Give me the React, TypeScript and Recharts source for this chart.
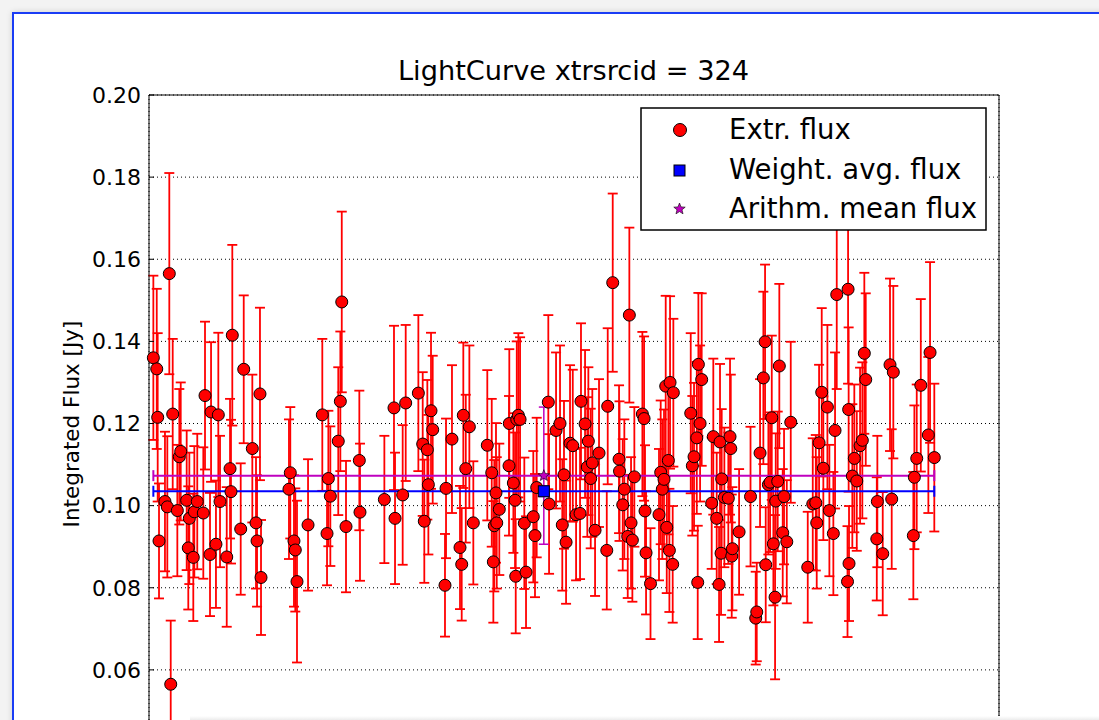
import { ScatterChart, Scatter, XAxis, YAxis, CartesianGrid, ErrorBar } from 'recharts';

// observation times (arbitrary day offset, x axis labels are cut off in the source)
const times = [
  4.6, 8.2, 9.2, 10.6, 16.9, 19.4, 21.5, 23.0, 25.1, 30.0, 32.1, 33.6, 39.9, 41.6, 42.7, 46.9, 48.0, 51.1, 57.5, 59.3,
  64.6, 65.7, 70.9, 73.4, 75.2, 82.3, 85.8, 86.8, 88.2, 97.1, 100.3,
  109.4, 113.3, 114.4, 117.5, 118.6, 148.2, 149.6, 153.5, 154.9, 156.7, 168.4, 183.5, 188.5, 189.9, 192.0, 200.4, 202.6, 204.1, 208.6,
  222.7, 223.4, 249.2, 259.4, 260.5, 268.6, 271.8, 285.2, 289.8, 291.5, 294.7, 295.8, 298.6, 300.4, 313.4, 314.5, 320.8,
  329.3, 331.1, 332.8, 335.4, 339.2, 343.4, 358.2, 362.9, 364.6, 365.6, 367.4, 368.2, 370.9, 381.2, 381.5, 385.8, 387.6, 388.3,
  389.4, 391.1, 392.9, 397.4, 399.2, 406.9, 408.7, 410.5, 422.8, 423.6,
  431.0, 435.2, 437.6, 439.4, 441.6, 445.8, 448.7, 452.2, 456.4, 457.4, 461.7, 464.1, 465.2, 467.7, 469.4, 472.3, 476.5, 484.7,
  485.7, 491.0, 497.7, 498.2, 501.6, 503.3, 506.9, 508.6, 510.4, 511.8, 513.9, 522.4, 524.2, 525.2, 526.3, 531.0,
  540.0, 541.8, 543.5, 545.3, 547.1, 548.2, 549.9, 551.0, 551.7, 554.5, 555.2, 573.6, 575.3, 577.1, 580.0, 581.0, 581.7, 583.5,
  585.2, 595.8, 597.5, 601.1, 603.6, 604.6, 605.7, 606.4, 609.2, 613.4, 615.2, 616.0, 617.0, 617.7, 624.8,
  636.9, 642.4, 643.5, 647.0, 650.5, 652.3, 653.0, 655.8, 657.6, 659.4, 661.1, 662.9, 663.6, 665.7, 667.4, 671.0, 672.4, 675.3,
  679.5, 697.5, 702.8, 706.0, 707.0, 709.5, 712.3, 714.0, 718.3, 720.4, 724.6, 726.4, 728.2, 740.2, 740.8, 741.2, 739.6,
  744.7, 746.8, 749.4, 752.9, 755.3, 757.4, 758.9, 770.6, 771.2, 776.9, 784.6, 786.4, 788.1, 809.3, 810.4, 812.9, 817.2, 825.2,
  827.0, 831.5,
];

const flux = [
  0.136, 0.1333, 0.1215, 0.0914, 0.101, 0.0997, 0.1565, 0.0565, 0.1223, 0.0988, 0.1119, 0.1132, 0.1013, 0.0897, 0.0969, 0.0874,
  0.0985, 0.101, 0.0982, 0.1268, 0.0881, 0.1228, 0.0906, 0.1221, 0.101, 0.0875, 0.109, 0.1034, 0.1415, 0.0943, 0.1332,
  0.1139, 0.0958, 0.0914, 0.1272, 0.0825, 0.104, 0.108, 0.0914, 0.0892, 0.0815, 0.0953, 0.1221, 0.0932, 0.1066, 0.1023, 0.1157,
  0.1254, 0.1496, 0.0949,
  0.111, 0.0984, 0.1015, 0.1238, 0.0969, 0.1026, 0.125, 0.1274, 0.115, 0.0962, 0.1136, 0.1051, 0.1231, 0.1185, 0.0806, 0.1042, 0.1162,
  0.0898, 0.0857, 0.122, 0.109, 0.1192, 0.0958, 0.1147, 0.108, 0.0863, 0.0951, 0.1031, 0.0958, 0.0991, 0.1097, 0.12, 0.1055, 0.1013,
  0.0828, 0.121, 0.122, 0.121, 0.0957, 0.0838, 0.0973, 0.0927, 0.1044, 0.1252, 0.1004,
  0.1183, 0.12, 0.0953, 0.1075, 0.0911, 0.1152, 0.1146, 0.0978, 0.0981, 0.1254, 0.1199, 0.1094, 0.1157, 0.1066, 0.1104, 0.094, 0.1128,
  0.0891, 0.1242, 0.1543, 0.1113, 0.1084, 0.1002, 0.104, 0.0925, 0.1464, 0.0958, 0.0916, 0.107, 0.1223, 0.1212, 0.0987, 0.0885, 0.081,
  0.0978, 0.1081, 0.104, 0.1064, 0.1291, 0.0947, 0.111, 0.0891, 0.13, 0.0857, 0.1275, 0.1225, 0.1097, 0.1119, 0.1165, 0.0813, 0.1344,
  0.12, 0.1307, 0.1006, 0.1168, 0.0969, 0.0808, 0.1155, 0.0884, 0.1065, 0.102, 0.1018, 0.1168, 0.1139, 0.0877, 0.0895, 0.0936,
  0.1022, 0.0726, 0.0741, 0.1128, 0.1311, 0.1399, 0.0856, 0.1051, 0.1057, 0.1214, 0.0907, 0.0777, 0.1011, 0.1059, 0.134, 0.0934,
  0.1022, 0.0912, 0.1203, 0.085, 0.1004, 0.1007, 0.0958, 0.1153, 0.1276, 0.1091, 0.124, 0.0988, 0.0932, 0.1183, 0.1514, 0.1527,
  0.1234, 0.0859, 0.0815,
  0.1072, 0.1115, 0.106, 0.1146, 0.1159, 0.1371, 0.1307, 0.0919, 0.101, 0.0883, 0.1343, 0.1016, 0.1325, 0.0927, 0.1069, 0.1115,
  0.1293, 0.1172, 0.1373, 0.1117,
];

const fluxErr = [
  0.02, 0.0195, 0.0205, 0.014, 0.017, 0.0172, 0.0245, 0.0155, 0.0183, 0.016, 0.0165, 0.0168, 0.017, 0.015, 0.016, 0.0155, 0.016,
  0.0165, 0.016, 0.018, 0.015, 0.017, 0.0155, 0.02, 0.016, 0.017, 0.017, 0.0175, 0.022, 0.016, 0.018,
  0.018, 0.016, 0.016, 0.021, 0.014, 0.017, 0.016, 0.016, 0.015, 0.0197, 0.016, 0.0185, 0.0126, 0.0165, 0.017, 0.018, 0.017, 0.022, 0.016,
  0.017, 0.0167, 0.0155, 0.02, 0.016, 0.017, 0.019, 0.019, 0.0175, 0.015, 0.017, 0.017, 0.019, 0.018, 0.0125, 0.017, 0.018,
  0.015, 0.0137, 0.0177, 0.018, 0.0198, 0.015, 0.0183, 0.018, 0.0148, 0.016, 0.017, 0.016, 0.016, 0.017, 0.0181, 0.017, 0.0165,
  0.0139, 0.019, 0.02, 0.02, 0.016, 0.0136, 0.016, 0.015, 0.017, 0.0212, 0.017,
  0.019, 0.019, 0.016, 0.018, 0.015, 0.019, 0.0185, 0.016, 0.016, 0.019, 0.018, 0.017, 0.018, 0.017, 0.018, 0.016, 0.018, 0.0144,
  0.019, 0.0217, 0.018, 0.017, 0.016, 0.017, 0.015, 0.0213, 0.016, 0.015, 0.017, 0.02, 0.02, 0.016, 0.015, 0.0135,
  0.016, 0.0175, 0.017, 0.017, 0.022, 0.016, 0.018, 0.015, 0.021, 0.0142, 0.018, 0.0195, 0.017, 0.018, 0.0185, 0.0138, 0.0174,
  0.019, 0.021, 0.016, 0.019, 0.016, 0.014, 0.019, 0.015, 0.017, 0.017, 0.016, 0.019, 0.018, 0.015, 0.015, 0.0153,
  0.017, 0.0113, 0.012, 0.018, 0.021, 0.0188, 0.014, 0.017, 0.017, 0.02, 0.015, 0.02, 0.0165, 0.017, 0.02, 0.0155, 0.0165, 0.015,
  0.0196, 0.0135, 0.016, 0.0165, 0.016, 0.019, 0.0205, 0.0175, 0.02, 0.016, 0.015, 0.019, 0.023, 0.023, 0.02, 0.014, 0.0135,
  0.0175, 0.018, 0.017, 0.019, 0.019, 0.0196, 0.021, 0.015, 0.016, 0.015, 0.021, 0.017, 0.021, 0.0155, 0.0175, 0.018, 0.021,
  0.019, 0.022, 0.018,
];

const weightedAvg = 0.1035;
const weightedAvgErr = 0.0012;
const arithMean = 0.1073;
const arithMeanErr = 0.0167;

const xTicks = [0, 100, 200, 300, 400, 500, 600, 700, 800, 900];
// the 0.04 tick sits below the visible part of the figure
const yTicks = [0.06, 0.08, 0.1, 0.12, 0.14, 0.16, 0.18, 0.2];

const points = times.map((t, i) => ({ t, flux: flux[i], err: fluxErr[i] }));
const tMin = Math.min(...times);
const tMax = Math.max(...times);
const tMid = (tMin + tMax) / 2;
const halfSpan = (tMax - tMin) / 2;
const wavgData = [{ t: tMid, flux: weightedAvg, xe: halfSpan, ye: weightedAvgErr }];
const meanData = [{ t: tMid, flux: arithMean, xe: halfSpan, ye: arithMeanErr }];

const RED = '#ff0000';
const BLUE = '#0000ff';
const MAGENTA = '#bf00bf';

const starPath = (cx: number, cy: number, ro: number, ri: number) => {
  let d = '';
  for (let k = 0; k < 10; k++) {
    const r = k % 2 === 0 ? ro : ri;
    const a = -Math.PI / 2 + (k * Math.PI) / 5;
    d += (k === 0 ? 'M' : 'L') + (cx + r * Math.cos(a)).toFixed(2) + ',' + (cy + r * Math.sin(a)).toFixed(2);
  }
  return d + 'Z';
};

const Nothing = () => <g />;
const RedDot = (p: any) => <circle cx={p.cx} cy={p.cy} r={6} fill={RED} stroke="#000" strokeWidth={1} />;
const BlueSquare = (p: any) => (
  <rect x={p.cx - 5.5} y={p.cy - 5.5} width={11} height={11} fill={BLUE} stroke="#000" strokeWidth={1} />
);
const Star = (p: any) => <path d={starPath(p.cx, p.cy, 6, 2.6)} fill={MAGENTA} stroke="#000" strokeWidth={0.6} />;

const font = 'DejaVu Sans, sans-serif';

export default function App() {
  return (
    <div style={{ position: 'absolute', left: 0, top: 0, width: 1099, height: 720, overflow: 'hidden', background: '#f3f3f3', fontFamily: font }}>
      <div style={{ position: 'absolute', left: 12, top: 12, width: 1200, height: 800, background: '#fff', borderLeft: '2px solid #1a3cf5', borderTop: '2px solid #1a3cf5', boxShadow: '0 0 6px rgba(0,0,0,0.15)' }} />
      <div style={{ position: 'absolute', left: 0, top: 0 }}>
        <ScatterChart width={1099} height={800} margin={{ top: 94, right: 99, bottom: 18, left: 89 }}>
          <CartesianGrid stroke="#000" strokeDasharray="1 3" />
          <XAxis dataKey="t" type="number" domain={[0, 900]} ticks={xTicks} height={30} tick={false} tickSize={-5} stroke="#000" />
          <XAxis xAxisId="top" orientation="top" type="number" domain={[0, 900]} ticks={xTicks} height={1} tick={false} tickSize={-5} stroke="#000" />
          <YAxis
            dataKey="flux"
            type="number"
            domain={[0.04, 0.2]}
            ticks={yTicks}
            width={60}
            tickSize={-5}
            tickMargin={13}
            stroke="#000"
            tick={{ fill: '#000', fontSize: 22, fontFamily: font }}
            tickFormatter={(v: number) => v.toFixed(2)}
          />
          <YAxis yAxisId="right" orientation="right" type="number" domain={[0.04, 0.2]} ticks={yTicks} width={1} tick={false} tickSize={-5} stroke="#000" />
          <Scatter data={points} shape={Nothing} isAnimationActive={false}>
            <ErrorBar dataKey="err" direction="y" width={5} stroke={RED} strokeWidth={1.8} isAnimationActive={false} />
          </Scatter>
          <Scatter data={wavgData} shape={Nothing} isAnimationActive={false}>
            <ErrorBar dataKey="xe" direction="x" width={5.5} stroke={BLUE} strokeWidth={2} isAnimationActive={false} />
            <ErrorBar dataKey="ye" direction="y" width={5} stroke={BLUE} strokeWidth={2} isAnimationActive={false} />
          </Scatter>
          <Scatter data={meanData} shape={Nothing} isAnimationActive={false}>
            <ErrorBar dataKey="xe" direction="x" width={5.5} stroke={MAGENTA} strokeWidth={2} isAnimationActive={false} />
            <ErrorBar dataKey="ye" direction="y" width={5} stroke={MAGENTA} strokeWidth={1.5} isAnimationActive={false} />
          </Scatter>
          <Scatter data={points} shape={RedDot} isAnimationActive={false} />
          <Scatter data={wavgData} shape={BlueSquare} isAnimationActive={false} />
          <Scatter data={meanData} shape={Star} isAnimationActive={false} />
        </ScatterChart>
      </div>
      <div style={{ position: 'absolute', left: 190, top: 716, width: 909, height: 4, background: 'linear-gradient(#ffffff, #ececec)' }} />
      <svg width={1099} height={720} style={{ position: 'absolute', left: 0, top: 0, pointerEvents: 'none' }} fontFamily={font}>
        <text x={573.5} y={80} textAnchor="middle" fontSize={27.2} fill="#000">LightCurve xtrsrcid = 324</text>
        <text x={79} y={424} textAnchor="middle" fontSize={21.5} fill="#000" transform="rotate(-90 79 424)">Integrated Flux [Jy]</text>
        <rect x={641} y={108} width={345} height={122} fill="#fff" stroke="#000" strokeWidth={1.5} />
        <circle cx={680} cy={130} r={6.5} fill={RED} stroke="#000" strokeWidth={1} />
        <text x={729} y={139} fontSize={27.5} fill="#000">Extr. flux</text>
        <rect x={674} y={165} width={11} height={11} fill={BLUE} stroke="#000" strokeWidth={1} />
        <text x={729} y={179} fontSize={27.5} fill="#000">Weight. avg. flux</text>
        <path d={starPath(679.5, 209, 6, 2.6)} fill={MAGENTA} stroke="#000" strokeWidth={0.6} />
        <text x={729} y={218} fontSize={27.5} fill="#000">Arithm. mean flux</text>
      </svg>
    </div>
  );
}
